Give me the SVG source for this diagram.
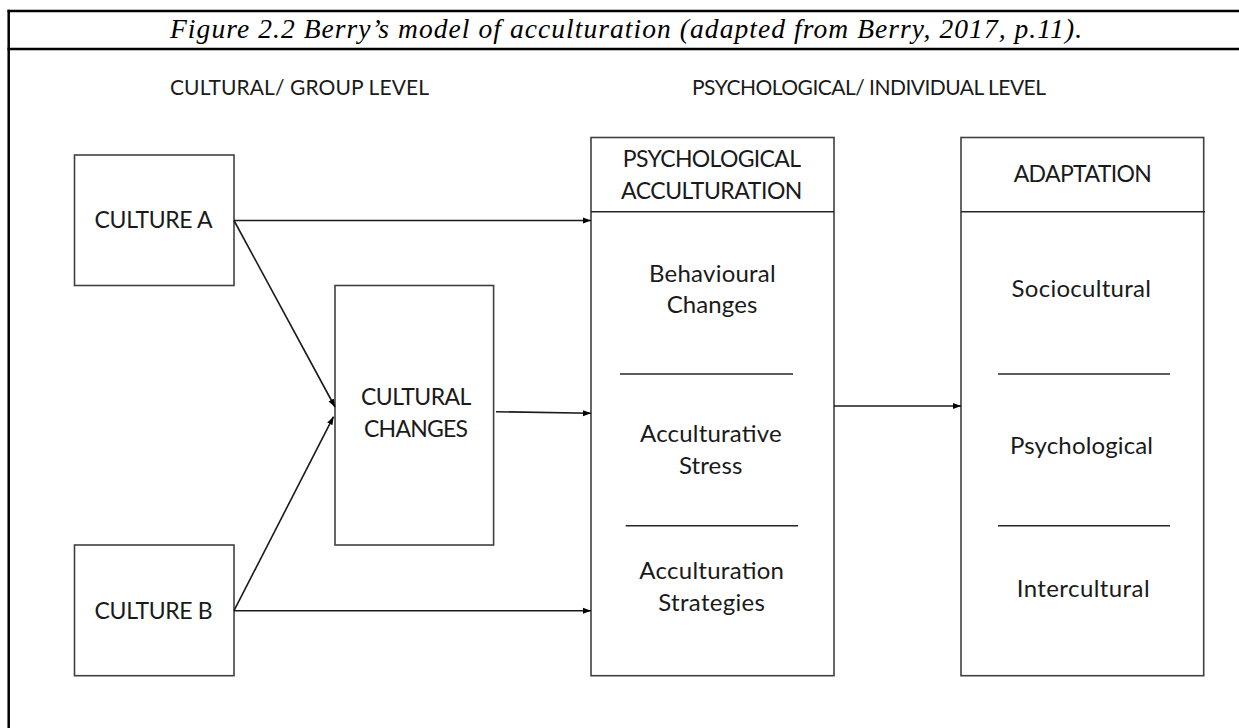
<svg xmlns="http://www.w3.org/2000/svg" width="1239" height="728" viewBox="0 0 1239 728">
  <style>
    .frame { stroke: #000; stroke-width: 2.5; fill: none; }
    .box { fill: #fff; stroke: #404040; stroke-width: 1.6; }
    .rule { stroke: #262626; stroke-width: 1.6; fill: none; }
    .conn { stroke: #1a1a1a; stroke-width: 1.6; fill: none; marker-end: url(#arrow); }
    .lbl { font-family: Lato, "Noto Sans", sans-serif; font-size: 24px; fill: #1a1a1a; }
    .caps { font-size: 23px; }
    .head { font-size: 21px; }
    .title { font-family: "Liberation Serif", "Times New Roman", serif; font-style: italic; font-size: 27.5px; fill: #000; }
  </style>
  <defs>
    <marker id="arrow" markerUnits="userSpaceOnUse" markerWidth="9" markerHeight="7" refX="8" refY="3.5" orient="auto">
      <path d="M0,0.5 L8,3.5 L0,6.5 z" fill="#000"/>
    </marker>
  </defs>

  <rect width="1239" height="728" fill="#fff"/>

  <!-- caption frame -->
  <g id="frame">
    <line class="frame" x1="7.5" y1="11" x2="1239" y2="11"/>
    <line class="frame" x1="7.5" y1="49" x2="1239" y2="49"/>
    <line class="frame" x1="8.7" y1="9.8" x2="8.7" y2="728"/>
    <text class="title" x="170" y="38" textLength="912">Figure 2.2 Berry’s model of acculturation (adapted from Berry, 2017, p.11).</text>
  </g>

  <!-- level headings -->
  <g id="headings">
    <text class="lbl head" x="170" y="95" textLength="259">CULTURAL/ GROUP LEVEL</text>
    <text class="lbl head" x="692" y="95" textLength="354">PSYCHOLOGICAL/ INDIVIDUAL LEVEL</text>
  </g>

  <g id="culture-a">
    <rect class="box" x="74.5" y="155" width="159.5" height="130.5"/>
    <text class="lbl caps" x="94.6" y="228.3" textLength="118">CULTURE A</text>
  </g>

  <g id="culture-b">
    <rect class="box" x="74.5" y="545" width="159.5" height="130.7"/>
    <text class="lbl caps" x="94.6" y="619" textLength="118">CULTURE B</text>
  </g>

  <g id="cultural-changes">
    <rect class="box" x="335" y="285.5" width="158.6" height="259.5"/>
    <text class="lbl caps" x="361" y="405" textLength="110.4">CULTURAL</text>
    <text class="lbl caps" x="364" y="436.5" textLength="104">CHANGES</text>
  </g>

  <g id="psychological-acculturation">
    <rect class="box" x="591" y="137.5" width="243" height="538.2"/>
    <line class="rule" x1="591" y1="211.7" x2="834" y2="211.7"/>
    <text class="lbl caps" x="622.8" y="167" textLength="178.2">PSYCHOLOGICAL</text>
    <text class="lbl caps" x="621" y="199" textLength="181.4">ACCULTURATION</text>
    <text class="lbl" x="649" y="281.7" textLength="126.7">Behavioural</text>
    <text class="lbl" x="666.7" y="313.3" textLength="90.6">Changes</text>
    <line class="rule" x1="620" y1="374" x2="793" y2="374"/>
    <text class="lbl" x="640" y="442.3" textLength="141.7">Acculturative</text>
    <text class="lbl" x="679" y="474" textLength="63.3">Stress</text>
    <line class="rule" x1="625.7" y1="525.7" x2="798" y2="525.7"/>
    <text class="lbl" x="639.3" y="579" textLength="144.7">Acculturation</text>
    <text class="lbl" x="658.3" y="610.7" textLength="106.7">Strategies</text>
  </g>

  <g id="adaptation">
    <rect class="box" x="961" y="137.5" width="242.7" height="538.2"/>
    <line class="rule" x1="961" y1="211.7" x2="1205" y2="211.7"/>
    <text class="lbl caps" x="1013.7" y="182.3" textLength="138.1">ADAPTATION</text>
    <text class="lbl" x="1011.5" y="296.7" textLength="139.5">Sociocultural</text>
    <line class="rule" x1="998" y1="374" x2="1170" y2="374"/>
    <text class="lbl" x="1010" y="454.3" textLength="143">Psychological</text>
    <line class="rule" x1="998" y1="525.7" x2="1170" y2="525.7"/>
    <text class="lbl" x="1016.7" y="597.3" textLength="132.9">Intercultural</text>
  </g>

  <g id="connectors">
    <line class="conn" x1="234" y1="220.5" x2="591" y2="220.5"/>
    <line class="conn" x1="234" y1="220.5" x2="335" y2="407"/>
    <line class="conn" x1="234" y1="610.7" x2="333.5" y2="416.7"/>
    <line class="conn" x1="496" y1="411.7" x2="591" y2="413.3"/>
    <line class="conn" x1="234" y1="610.7" x2="591" y2="610.7"/>
    <line class="conn" x1="834" y1="406" x2="961" y2="406"/>
  </g>
</svg>
